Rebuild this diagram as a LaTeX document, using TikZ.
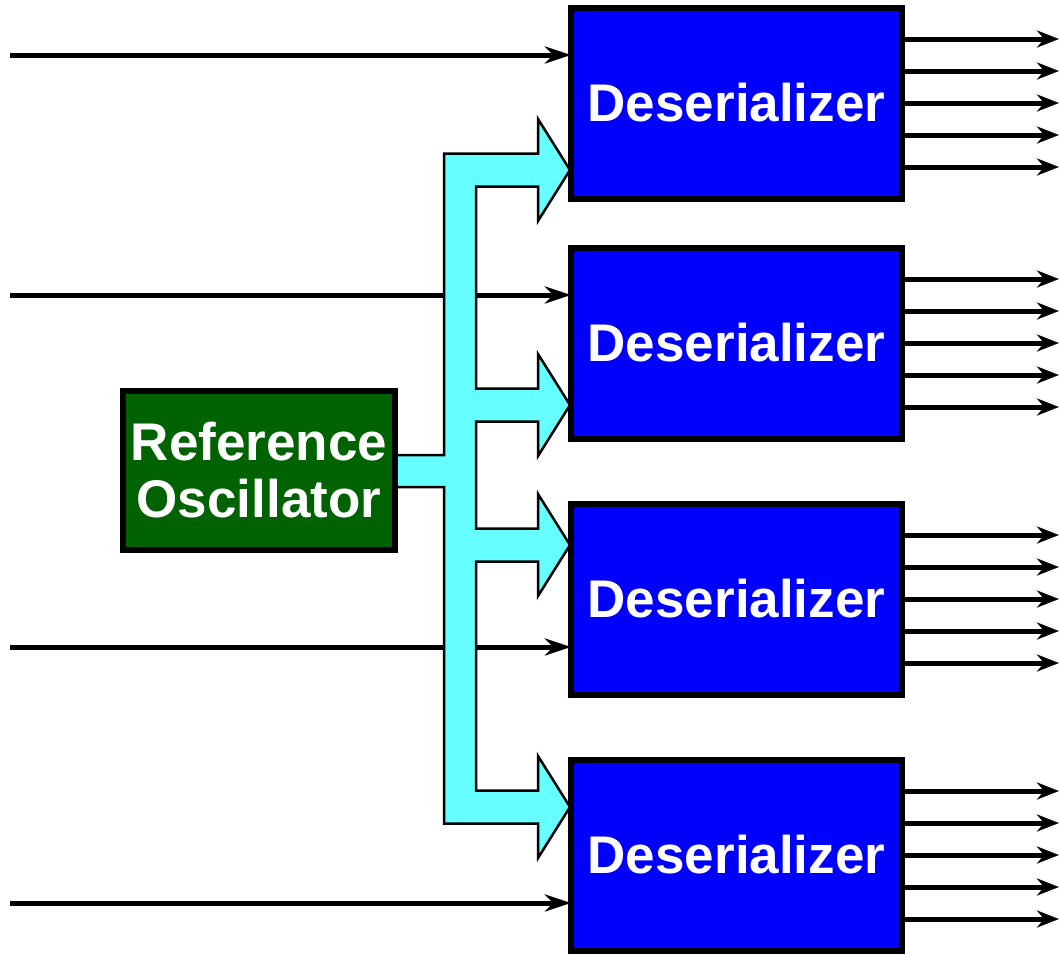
\documentclass[tikz,border=0pt]{standalone}
\usepackage{fontspec}
\setmainfont{Liberation Sans}
\usetikzlibrary{arrows.meta}
\definecolor{desblue}{RGB}{0,0,255}
\definecolor{oscgreen}{RGB}{0,98,0}
\definecolor{clkcyan}{RGB}{102,255,255}
\begin{document}
\begin{tikzpicture}[x=1pt,y=-1pt,
  desbox/.style={draw=black,line width=6pt,fill=desblue,text=white,
    minimum width=331pt,minimum height=191pt,inner sep=0pt,
    font=\fontsize{53}{57}\selectfont\bfseries},
  oscbox/.style={draw=black,line width=6pt,fill=oscgreen,text=white,
    minimum width=272pt,minimum height=159pt,inner sep=0pt,align=center,
    font=\fontsize{53}{57}\selectfont\bfseries},
  inwire/.style={line width=5pt,-{Stealth[length=26pt,width=17pt,inset=8pt]}},
  outwire/.style={line width=5pt,-{Stealth[length=22pt,width=17pt,inset=7pt]}},
  clkbus/.style={draw=black,line width=2.5pt,fill=clkcyan,line join=miter}]
\useasboundingbox (0,0) rectangle (1060,953);

% serial inputs (drawn first so the clock bus covers them)
\coordinate (in1) at (10,55);
\coordinate (in2) at (10,295);
\coordinate (in3) at (10,647);
\coordinate (in4) at (10,903);
\path (736.5,103) coordinate (c1) (736.5,343) coordinate (c2)
      (736.5,599) coordinate (c3) (736.5,855) coordinate (c4);
\draw[inwire] (in1) -- (571,55);
\draw[inwire] (in2) -- (571,295);
\draw[inwire] (in3) -- (571,647);
\draw[inwire] (in4) -- (571,903);

% clock distribution bus
\draw[clkbus] (444,153.5) -- (538,153.5) -- (538,119) -- (570,170) -- (538,221)
  -- (538,186.5) -- (476,186.5) -- (476,388.5) -- (538,388.5) -- (538,354)
  -- (570,405) -- (538,456) -- (538,421.5) -- (476,421.5) -- (476,528.5)
  -- (538,528.5) -- (538,494) -- (570,545) -- (538,596) -- (538,561.5)
  -- (476,561.5) -- (476,790.5) -- (538,790.5) -- (538,756) -- (570,807)
  -- (538,858) -- (538,823.5) -- (444,823.5) -- (444,487) -- (395,487)
  -- (395,455) -- (444,455) -- cycle;

% blocks
\node[oscbox] (osc) at (259,470.5) {Reference\\Oscillator};
\node[desbox] (d1) at (c1) {Deserializer};
\node[desbox] (d2) at (c2) {Deserializer};
\node[desbox] (d3) at (c3) {Deserializer};
\node[desbox] (d4) at (c4) {Deserializer};

% parallel outputs
\foreach \d in {1,2,3,4}{
  \foreach \k [count=\i] in {-64,-32,0,32,64}{
    \coordinate (o\d\i) at ([yshift=\k pt]d\d.east -| 1059,0);
    \draw[outwire] ([yshift=\k pt]d\d.east) -- (o\d\i);
  }
}
\end{tikzpicture}
\end{document}
